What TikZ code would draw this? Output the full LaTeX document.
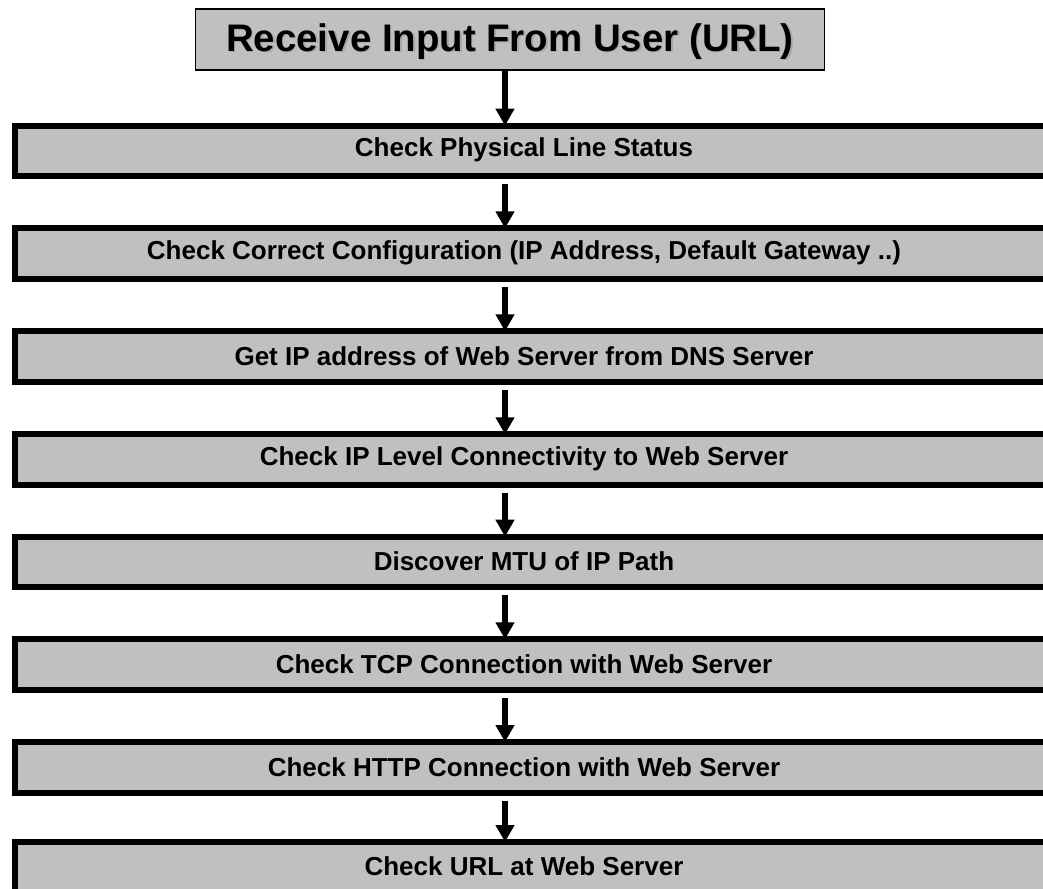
\documentclass[tikz,border=0pt]{standalone}
\usepackage{fontspec}
\setmainfont{Liberation Sans}
\usetikzlibrary{arrows.meta}
\definecolor{boxgray}{HTML}{C0C0C0}
\begin{document}
\begin{tikzpicture}[x=0.5pt,y=-0.5pt,
  titlebox/.style={draw=black, line width=0.8pt, fill=boxgray, minimum width=314.5pt, minimum height=30.3pt, inner sep=0pt, anchor=north west},
  titletext/.style={font=\bfseries\fontsize{19.2pt}{22pt}\selectfont},
  bar/.style={draw=black, line width=3pt, fill=boxgray, minimum width=524pt, minimum height=25.3pt, inner sep=0pt, anchor=north west},
  bartext/.style={font=\bfseries\fontsize{13pt}{15pt}\selectfont, inner sep=0pt},
  flow/.style={line width=3.2pt, -{Triangle[width=9pt,length=8.5pt]}}]
\useasboundingbox (0,0) rectangle (1043,888);
\clip (0,0) rectangle (1043,888);
\coordinate (ax) at (505,0);

\node[titlebox] (t) at (194.5,8.5) {};
\node[titletext, text=gray!70] at (511.5,43) {Receive Input From User (URL)};
\node[titletext] (tt) at (510,42) {Receive Input From User (URL)};

\node[bar] (b1) at (12,122.7) {};
\node[bar] (b2) at (12,225.3) {};
\node[bar] (b3) at (12,328.3) {};
\node[bar] (b4) at (12,431.3) {};
\node[bar] (b5) at (12,533.7) {};
\node[bar] (b6) at (12,636.3) {};
\node[bar] (b7) at (12,739) {};
\node[bar] (b8) at (12,839) {};

\node[bartext] (l1) at (524,150) {Check Physical Line Status};
\node[bartext] (l2) at (524,253) {Check Correct Configuration (IP Address, Default Gateway ..)};
\node[bartext] (l3) at (524,356) {Get IP address of Web Server from DNS Server};
\node[bartext] (l4) at (524,459) {Check IP Level Connectivity to Web Server};
\node[bartext] (l5) at (524,561) {Discover MTU of IP Path};
\node[bartext] (l6) at (524,664) {Check TCP Connection with Web Server};
\node[bartext] (l7) at (524,767) {Check HTTP Connection with Web Server};
\node[bartext] (l8) at (524,866) {Check URL at Web Server};

\draw[flow] (t.south -| ax) -- ([yshift=-1.5pt]b1.north -| ax);
\draw[flow] ([yshift=-2.5pt]b1.south -| ax) -- ([yshift=-1.5pt]b2.north -| ax);
\draw[flow] ([yshift=-2.5pt]b2.south -| ax) -- ([yshift=-1.5pt]b3.north -| ax);
\draw[flow] ([yshift=-2.5pt]b3.south -| ax) -- ([yshift=-1.5pt]b4.north -| ax);
\draw[flow] ([yshift=-2.5pt]b4.south -| ax) -- ([yshift=-1.5pt]b5.north -| ax);
\draw[flow] ([yshift=-2.5pt]b5.south -| ax) -- ([yshift=-1.5pt]b6.north -| ax);
\draw[flow] ([yshift=-2.5pt]b6.south -| ax) -- ([yshift=-1.5pt]b7.north -| ax);
\draw[flow] ([yshift=-2.5pt]b7.south -| ax) -- ([yshift=-1.5pt]b8.north -| ax);
\end{tikzpicture}
\end{document}
